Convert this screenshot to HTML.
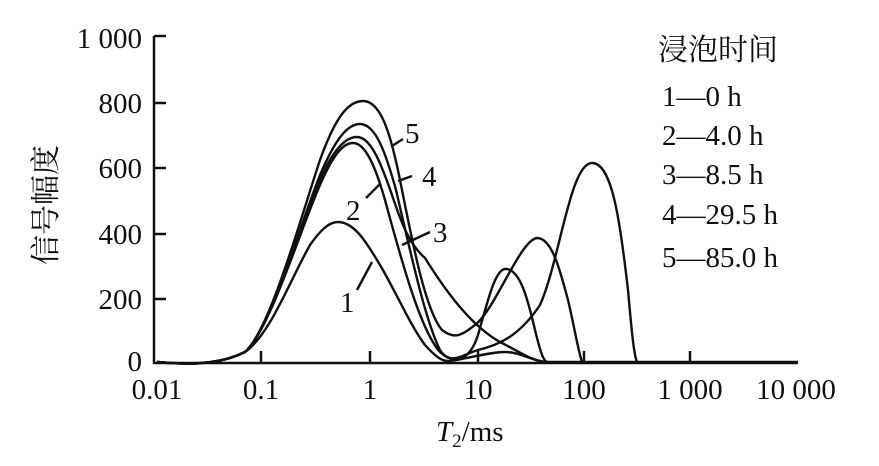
<!DOCTYPE html>
<html><head><meta charset="utf-8"><style>
body{margin:0;background:#fff}
svg{display:block}
text{font-family:"Liberation Serif","Noto Serif CJK SC",serif;fill:#111}
</style></head><body>
<svg width="879" height="466" viewBox="0 0 879 466">
<g stroke="#111" stroke-width="2.5" fill="none">
<path d="M154,36 V363 H798"/>
<path d="M154,36 H166 M154,103 H166 M154,168 H166 M154,234 H166 M154,299 H166"/>
<path d="M261,363 V351 M370,363 V351 M478,363 V351 M584,363 V351 M690,363 V351"/>
</g>
<g stroke="#111" stroke-width="2.4" fill="none">
<path d="M157,362 C200,366 225,362 245,352 C270,335 290,280 310,245 C322,228 330,222 338,222 C355,222 368,245 380,265 C395,290 410,325 425,345 C435,356 442,362 450,361 C470,358 490,352 505,352 C520,352 530,360 545,362 L798,362"/>
<path d="M157,362 C200,366 225,362 245,352 C270,330 300,230 320,185 C333,155 343,143 353,143 C365,143 375,165 385,200 C400,255 420,330 440,352 C455,366 470,360 478,335 C488,300 495,270 505,269 C520,268 528,300 535,330 C540,350 543,362 548,362"/>
<path d="M157,362 C200,366 225,362 245,352 C270,330 300,225 320,180 C333,150 345,137 357,137 C370,137 380,160 392,195 C402,225 410,245 425,258 C445,290 470,325 500,342 C520,352 530,360 545,362"/>
<path d="M157,362 C200,366 225,362 245,352 C270,330 300,225 320,175 C335,140 347,124 360,124 C375,124 385,150 396,190 C410,250 425,320 440,350 C450,366 462,355 478,350 C500,345 520,335 540,305 C560,260 570,163 592,163 C612,163 620,220 628,290 C632,335 634,355 637,362"/>
<path d="M157,362 C200,366 225,362 245,352 C270,330 300,220 320,160 C335,118 348,101 363,101 C380,101 390,130 400,180 C412,240 425,310 442,330 C455,340 462,335 475,325 C495,310 520,240 537,238 C552,238 560,270 568,300 C575,330 578,350 582,362"/>
<path d="M357,290 L372,262 M366,198 L380,184 M392,146 L403,139 M398,181 L412,176 M402,245 L430,232"/>
</g>
<g font-size="29">
<g text-anchor="end">
<text x="142" y="48">1 000</text><text x="142" y="113">800</text><text x="142" y="178">600</text>
<text x="142" y="244">400</text><text x="142" y="309">200</text><text x="142" y="371">0</text>
</g>
<g text-anchor="middle">
<text x="157" y="399">0.01</text><text x="261" y="399">0.1</text><text x="370" y="399">1</text>
<text x="478" y="399">10</text><text x="584" y="399">100</text><text x="690" y="399">1 000</text>
<text x="796" y="399">10 000</text>
</g>
<text x="436" y="441"><tspan font-style="italic">T</tspan><tspan font-size="19" dy="6">2</tspan><tspan dy="-6">/ms</tspan></text>
<text transform="translate(56,205) rotate(-90)" text-anchor="middle" font-family="Noto Sans CJK SC,sans-serif" font-size="30">信号幅度</text>
<text x="340" y="312">1</text><text x="346" y="220">2</text><text x="433" y="242">3</text>
<text x="422" y="186">4</text><text x="405" y="143">5</text>
<text x="658" y="60" font-family="Noto Sans CJK SC,sans-serif" font-size="30">浸泡时间</text>
<text x="662" y="106">1—0 h</text><text x="662" y="145">2—4.0 h</text><text x="662" y="184">3—8.5 h</text>
<text x="662" y="224">4—29.5 h</text><text x="662" y="267">5—85.0 h</text>
</g>
</svg>
</body></html>
